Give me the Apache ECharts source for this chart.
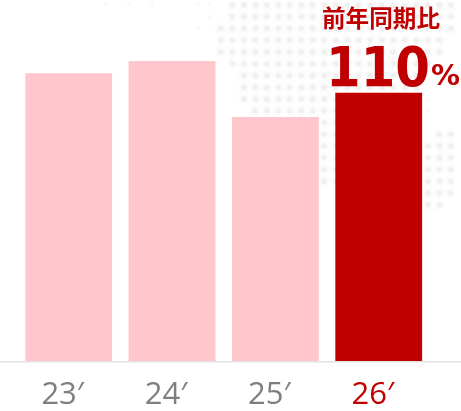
<!DOCTYPE html>
<html><head><meta charset="utf-8">
<style>html,body{margin:0;padding:0;background:#fff}#c{width:461px;height:411px}</style>
<script src="https://cdn.jsdelivr.net/npm/echarts@6/dist/echarts.min.js"></script></head>
<body><div id="c"></div>
<script>
const categories = ["23′","24′","25′","26′"];
const values = [118, 123, 100, 110];
const highlightIndex = 3;
const changeLabel = "前年同期比";
const changeValue = "110";
const changeUnit = "%";
// dotted world-map backdrop: [row, firstCol, lastCol]
const mapRows = [[0,20,39],[1,20,39],[2,19,39],[3,19,38],[4,19,38],[5,20,37],[6,21,36],[7,21,36],[8,21,34],[9,22,34],
  [10,28,29],[11,28,29],[12,28,29],[13,28,29],[14,28,29],[15,28,29],
  [11,38,39],[12,37,39],[13,37,39],[14,37,39],[15,37,39],[16,37,39],[17,37,38]];
const faintDots = [[0,9],[0,11],[0,13],[0,17],[0,18],[1,18],[2,17],[8,37],[9,37]];
const FONT = '"Noto Sans CJK JP","Open Sans",sans-serif';
const mapData = [];
mapRows.forEach(([r,a,b])=>{for(let c=a;c<=b;c++)mapData.push([c,r]);});
const chart = echarts.init(document.getElementById('c'), null, {renderer:'canvas'});
chart.setOption({
  animation:false,
  backgroundColor:'#fff',
  grid:[{left:17,width:413.4,top:0,height:361,outerBoundsMode:'none'},{left:0,width:461,top:0,height:411,outerBoundsMode:'none'}],
  xAxis:[{type:'category',data:categories,gridIndex:0,
    axisLine:{show:false},axisTick:{show:false},
    axisLabel:{margin:19,padding:[0,12,0,0],fontFamily:'"Open Sans",sans-serif',fontSize:31,
      color:(v,i)=>i===highlightIndex?'#c00000':'#7f7f7f'}},
    {type:'value',gridIndex:1,min:-0.2,max:39.89,show:false}],
  yAxis:[{type:'value',gridIndex:0,min:0,max:148,show:false},
    {type:'value',gridIndex:1,inverse:true,min:-0.43,max:34.55,show:false}],
  series:[
   {type:'scatter',xAxisIndex:1,yAxisIndex:1,silent:true,z:0,symbolSize:5,data:mapData,
    itemStyle:{color:'#eeeeee',shadowBlur:5,shadowColor:'#e4e4e4'}},
   {type:'scatter',xAxisIndex:1,yAxisIndex:1,silent:true,z:0,symbolSize:3,data:faintDots.map(([r,c])=>[c,r]),
    itemStyle:{color:'#f6f6f6',shadowBlur:3,shadowColor:'#f4f4f4'}},
   {type:'bar',z:2,barWidth:'84%',
    data:values.map((v,i)=>({value:v,itemStyle:{color:i===highlightIndex?'#c00000':'#ffc7cb'}}))}],
  graphic:[
    {type:'rect',shape:{x:0,y:361,width:461,height:1.5},style:{fill:'#e3e3e3'},z:1},
    {type:'text',x:381,y:18,z:5,style:{text:changeLabel,fill:'#c00000',font:'bold 23.6px '+FONT,textAlign:'center',textVerticalAlign:'middle'}},
    {type:'text',x:326,y:71,z:5,scaleX:0.89,style:{text:changeValue,fill:'#c00000',font:'bold 56px "DejaVu Sans"',textAlign:'left',textVerticalAlign:'middle'}},
    {type:'text',x:431,y:77,z:5,style:{text:changeUnit,fill:'#c00000',font:'bold 29px "DejaVu Sans"',textAlign:'left',textVerticalAlign:'middle'}}
  ]
});
</script></body></html>
